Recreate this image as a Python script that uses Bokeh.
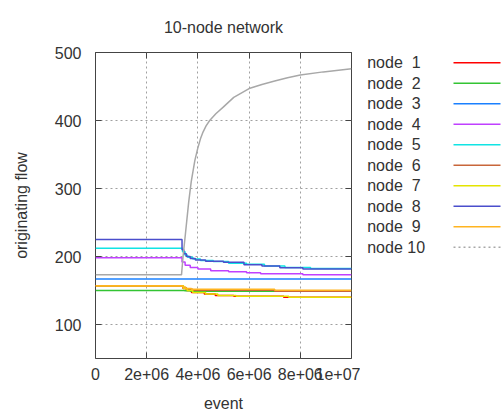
from bokeh.plotting import figure
from bokeh.layouts import row
from bokeh.models import Range1d, FixedTicker, LinearAxis, CustomJSTickFormatter
from bokeh.core.properties import value
from bokeh.embed import file_html
from bokeh.resources import INLINE

# ---- data -------------------------------------------------------------
title = "10-node network"
x_ticks = [0, 2000000, 4000000, 6000000, 8000000, 10000000]
x_tick_labels = ["0", "2e+06", "4e+06", "6e+06", "8e+06", "1e+07"]
y_ticks = [100, 200, 300, 400, 500]

# node numbers are padded to two places, as in "node %2d"
node_names = ["node \u00a01", "node \u00a02", "node \u00a03", "node \u00a04", "node \u00a05",
              "node \u00a06", "node \u00a07", "node \u00a08", "node \u00a09", "node 10"]
node_colors = ["#ff0000", "#33c433", "#1a80ff", "#c040ff", "#10e4e4",
               "#c8663a", "#e4e400", "#4a4ecc", "#ffb420", "#a8a8a8"]

node1_x = [0, 3.36e6, 3.42e6, 3.55e6, 3.75e6, 4.25e6, 4.68e6, 5.40e6, 7.35e6, 1e7]
node1_y = [157, 157, 153, 150, 147, 145, 142.6, 141.6, 140, 140]
node2_x = [0, 3.36e6, 3.48e6, 3.70e6, 1e7]
node2_y = [150, 150, 149.5, 149, 149]
node3_x = [0, 1e7]
node3_y = [167, 167]
node4_x = [0, 3.36e6, 3.38e6, 3.50e6, 3.70e6, 4.00e6, 4.50e6, 5.20e6, 5.90e6, 6.45e6, 8.10e6, 1e7]
node4_y = [198, 198, 192, 187, 184, 181.5, 179, 177.5, 176, 174.5, 173, 173]
node5_x = [0, 3.36e6, 3.40e6, 3.50e6, 3.60e6, 3.80e6, 4.10e6, 4.60e6, 5.20e6, 5.90e6, 6.60e6, 7.40e6, 8.40e6, 1e7]
node5_y = [212, 212, 207, 202, 199, 196.5, 194, 192.5, 190, 188.5, 186, 184, 182.5, 182.5]
node6_x = [0, 3.36e6, 3.42e6, 3.55e6, 3.80e6, 7.00e6, 1e7]
node6_y = [157, 157, 154, 152, 150.5, 149, 149]
node7_x = [0, 3.36e6, 3.44e6, 3.58e6, 3.80e6, 4.30e6, 4.78e6, 5.50e6, 7.55e6, 1e7]
node7_y = [157, 157, 153, 150, 147, 145, 142.6, 141.6, 140, 140]
node8_x = [0, 3.36e6, 3.38e6, 3.45e6, 3.55e6, 3.70e6, 3.90e6, 4.30e6, 5.00e6, 5.80e6, 6.50e6, 7.20e6, 8.10e6, 1e7]
node8_y = [225, 225, 210, 204, 200, 197, 195, 193, 191.5, 188, 186, 183.5, 181.5, 181.5]
node9_x = [0, 3.36e6, 3.40e6, 3.52e6, 3.75e6, 7.00e6, 1e7]
node9_y = [157, 157, 155, 153, 152, 150.5, 150.5]
node10_x = [0, 3.36e6, 3.42e6, 3.52e6, 3.64e6, 3.74e6, 3.88e6, 4.00e6, 4.10e6, 4.20e6, 4.32e6,
            4.46e6, 4.70e6, 5.00e6, 5.40e6, 6.00e6, 6.50e6, 7.00e6, 7.50e6, 8.00e6, 8.90e6, 1e7]
node10_y = [173, 173, 200, 236, 280, 310, 341, 360, 373, 383, 392,
            400, 410, 420, 434, 447, 453, 458, 463, 467, 471.5, 476]

step_series = [(node1_x, node1_y), (node2_x, node2_y), (node3_x, node3_y),
               (node4_x, node4_y), (node5_x, node5_y), (node6_x, node6_y),
               (node7_x, node7_y), (node8_x, node8_y), (node9_x, node9_y)]

FONT = "Liberation Sans"
TEXT = "#333333"
FRAME_TOP, FRAME_BOTTOM = 52, 358

# ---- main plot ----------------------------------------------------------
p = figure(width=360, height=416, title=title,
           x_range=Range1d(0, 1e7), y_range=Range1d(50, 500),
           output_backend="svg", toolbar_location=None,
           min_border_left=95, min_border_right=9,
           min_border_top=FRAME_TOP, min_border_bottom=416 - FRAME_BOTTOM)
p.title.align = "center"
p.title.vertical_align = "top"
p.title.text_font = FONT
p.title.text_font_size = "16px"
p.title.text_font_style = "normal"
p.title.text_color = TEXT
p.title.offset = 0
p.title.standoff = 30

p.background_fill_color = "white"
p.border_fill_color = "white"
p.outline_line_color = "#444444"
p.outline_line_width = 1

for ax in (p.xaxis[0], p.yaxis[0]):
    ax.axis_line_color = None
    ax.major_tick_in = 6
    ax.major_tick_out = 0
    ax.major_tick_line_color = "#444444"
    ax.minor_tick_line_color = None
    ax.major_label_text_font = FONT
    ax.major_label_text_font_size = "16px"
    ax.major_label_text_color = TEXT
    ax.axis_label_text_font = FONT
    ax.axis_label_text_font_size = "16px"
    ax.axis_label_text_font_style = "normal"
    ax.axis_label_text_color = TEXT

p.xaxis.ticker = FixedTicker(ticks=x_ticks)
p.xaxis.major_label_overrides = dict(zip(x_ticks, x_tick_labels))
p.xaxis.major_label_standoff = 9
p.xaxis.axis_label = "event"
p.xaxis.axis_label_standoff = 12

p.yaxis.ticker = FixedTicker(ticks=y_ticks)
p.yaxis.major_label_standoff = 14
p.yaxis.axis_label = "originating flow"
p.yaxis.axis_label_standoff = 22

# mirrored tick marks on the top and right edges
blank = CustomJSTickFormatter(code="return '';")
for loc, ticks in (("above", x_ticks), ("right", y_ticks)):
    ax = LinearAxis(ticker=FixedTicker(ticks=ticks), formatter=blank)
    ax.axis_line_color = None
    ax.major_tick_in = 6
    ax.major_tick_out = 0
    ax.major_tick_line_color = "#444444"
    ax.minor_tick_line_color = None
    ax.major_label_standoff = 0
    ax.major_label_text_font_size = "1px"
    p.add_layout(ax, loc)

for g in (p.xgrid[0], p.ygrid[0]):
    g.grid_line_color = "#a0a0a0"
    g.grid_line_dash = "2 3"
    g.grid_line_width = 1
p.xgrid.ticker = FixedTicker(ticks=x_ticks)
p.ygrid.ticker = FixedTicker(ticks=y_ticks)

for (xs, ys), c in zip(step_series, node_colors[:9]):
    p.step(xs, ys, mode="after", line_color=c, line_width=1.5)
p.line(node10_x, node10_y, line_color=node_colors[9], line_width=1.5)

# ---- key, drawn beside the plot ----------------------------------------
# its frame lines up with the main frame, so y runs in page pixels there
k = figure(width=143, height=416, x_range=Range1d(0, 143),
           y_range=Range1d(FRAME_BOTTOM, FRAME_TOP),
           output_backend="svg", toolbar_location=None,
           x_axis_type=None, y_axis_type=None,
           min_border_left=0, min_border_right=0,
           min_border_top=FRAME_TOP, min_border_bottom=416 - FRAME_BOTTOM)
k.outline_line_color = None
k.grid.visible = False
k.background_fill_color = "white"
k.border_fill_color = "white"

key_y = [62.3 + 20.5 * i for i in range(len(node_names))]
k.text(x=[6.7] * len(node_names), y=key_y, text=node_names,
       text_font=value(FONT), text_font_size="16px", text_color=TEXT,
       text_baseline="middle", text_align="left")
k.segment(x0=[93] * 9, x1=[140] * 9, y0=key_y[:9], y1=key_y[:9],
          line_color=node_colors[:9], line_width=1.5)
k.segment(x0=[93], x1=[140], y0=key_y[9:], y1=key_y[9:],
          line_color=node_colors[9], line_width=1.5, line_dash="2 3")

layout = row(p, k)
open("out.html", "w").write(file_html(layout, INLINE))
